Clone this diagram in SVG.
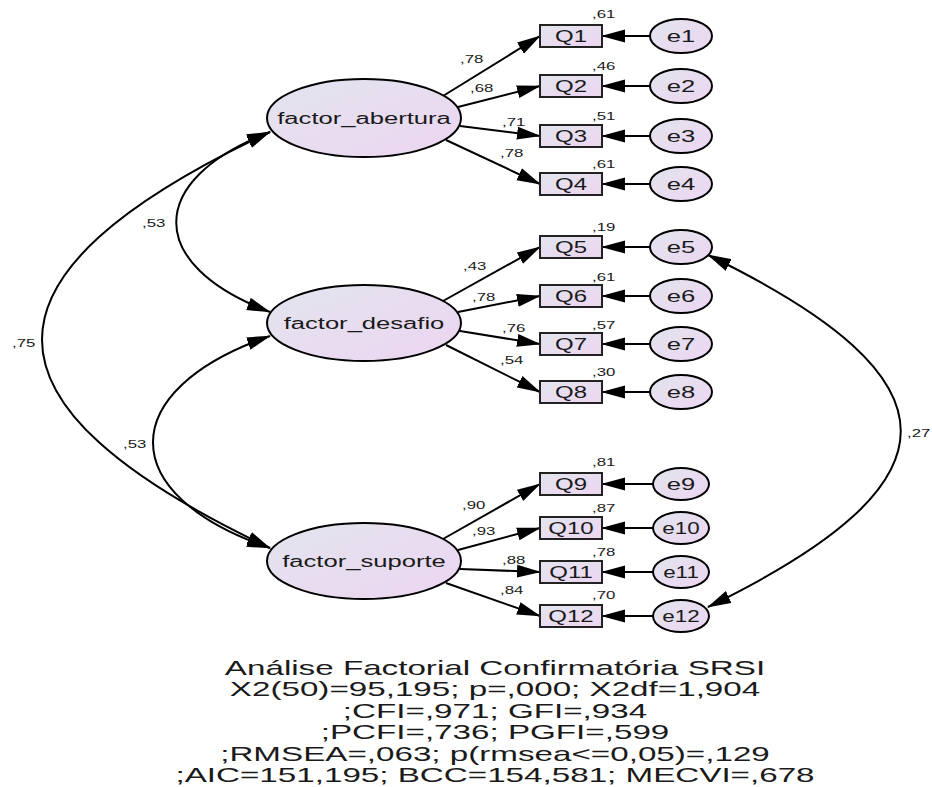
<svg xmlns="http://www.w3.org/2000/svg" width="932" height="787" viewBox="0 0 932 787">
<defs>
<linearGradient id="fill" x1="0" y1="0" x2="1" y2="1">
<stop offset="0" stop-color="#e2e5ee"/>
<stop offset="1" stop-color="#edd5f1"/>
</linearGradient>
<marker id="ah" viewBox="0 0 24 14" refX="23" refY="7" markerWidth="24" markerHeight="14" markerUnits="userSpaceOnUse" orient="auto-start-reverse">
<path d="M0,0.5 L24,7 L0,13.5 z" fill="#000"/>
</marker>
<style>
.lat{fill:url(#fill);stroke:#000;stroke-width:2}
.obs{fill:url(#fill);stroke:#222;stroke-width:2}
.err{fill:url(#fill);stroke:#000;stroke-width:2}
.c{fill:none;stroke:#000;stroke-width:2}
.a{marker-end:url(#ah)}
.b{marker-start:url(#ah);marker-end:url(#ah)}
text{font-family:"Liberation Sans",Arial,sans-serif;fill:#1a1a1a}
.nl{font-size:16px;text-anchor:middle}
.ql{font-size:16px;text-anchor:middle}
.sm{font-size:10.5px}
.tt{font-size:20px;text-anchor:middle}
</style>
</defs>
<rect width="932" height="787" fill="#fff"/>

<g id="connectors">
<path class="c b" d="M270,132 C145,180 145,265 270,312"/>
<path class="c b" d="M270,132 C-34,275 -34,404 270,548"/>
<path class="c b" d="M270,336 C114,390 114,495 270,548"/>
<path class="c b" d="M708,255 C965,380 965,482 708,607"/>
<line class="c a" x1="443" y1="96" x2="540" y2="36"/>
<line class="c a" x1="458" y1="107" x2="540" y2="86"/>
<line class="c a" x1="460" y1="126" x2="540" y2="136"/>
<line class="c a" x1="446" y1="140" x2="540" y2="184"/>
<line class="c a" x1="443" y1="301" x2="540" y2="247"/>
<line class="c a" x1="458" y1="312" x2="540" y2="296"/>
<line class="c a" x1="460" y1="331" x2="540" y2="344"/>
<line class="c a" x1="446" y1="345" x2="540" y2="392"/>
<line class="c a" x1="443" y1="539" x2="540" y2="484"/>
<line class="c a" x1="458" y1="550" x2="540" y2="528"/>
<line class="c a" x1="460" y1="569" x2="540" y2="572"/>
<line class="c a" x1="446" y1="583" x2="540" y2="616"/>
<line class="c a" x1="650" y1="36" x2="602" y2="36"/>
<line class="c a" x1="650" y1="86" x2="602" y2="86"/>
<line class="c a" x1="650" y1="136" x2="602" y2="136"/>
<line class="c a" x1="650" y1="184" x2="602" y2="184"/>
<line class="c a" x1="650" y1="247" x2="602" y2="247"/>
<line class="c a" x1="650" y1="296" x2="602" y2="296"/>
<line class="c a" x1="650" y1="344" x2="602" y2="344"/>
<line class="c a" x1="650" y1="392" x2="602" y2="392"/>
<line class="c a" x1="653" y1="484" x2="602" y2="484"/>
<line class="c a" x1="653" y1="528" x2="602" y2="528"/>
<line class="c a" x1="653" y1="572" x2="602" y2="572"/>
<line class="c a" x1="653" y1="616" x2="602" y2="616"/>
<g class="sm">
<text transform="translate(142,227) scale(1.6,1)">,53</text>
<text transform="translate(12,347) scale(1.6,1)">,75</text>
<text transform="translate(123,448) scale(1.6,1)">,53</text>
<text transform="translate(907,437) scale(1.6,1)">,27</text>
<text transform="translate(460,63) scale(1.6,1)">,78</text>
<text transform="translate(470,92) scale(1.6,1)">,68</text>
<text transform="translate(502,126) scale(1.6,1)">,71</text>
<text transform="translate(500,157) scale(1.6,1)">,78</text>
<text transform="translate(463,270) scale(1.6,1)">,43</text>
<text transform="translate(472,301) scale(1.6,1)">,78</text>
<text transform="translate(502,332) scale(1.6,1)">,76</text>
<text transform="translate(500,364) scale(1.6,1)">,54</text>
<text transform="translate(462,509) scale(1.6,1)">,90</text>
<text transform="translate(472,535) scale(1.6,1)">,93</text>
<text transform="translate(502,564) scale(1.6,1)">,88</text>
<text transform="translate(500,594) scale(1.6,1)">,84</text>
</g>
</g>

<g id="factor_abertura"><ellipse class="lat" cx="364" cy="118" rx="97" ry="39"/><text class="nl" transform="translate(364,124) scale(1.6,1)">factor_abertura</text></g>
<g id="factor_desafio"><ellipse class="lat" cx="364" cy="323" rx="97" ry="38"/><text class="nl" transform="translate(364,329) scale(1.6,1)">factor_desafio</text></g>
<g id="factor_suporte"><ellipse class="lat" cx="364" cy="561" rx="97" ry="38"/><text class="nl" transform="translate(364,567) scale(1.6,1)">factor_suporte</text></g>

<g id="Q1"><rect class="obs" x="540" y="25" width="62" height="22"/><text class="ql" transform="translate(571,42) scale(1.5,1)">Q1</text><text class="sm" transform="translate(592,18) scale(1.6,1)">,61</text></g>
<g id="Q2"><rect class="obs" x="540" y="75" width="62" height="22"/><text class="ql" transform="translate(571,92) scale(1.5,1)">Q2</text><text class="sm" transform="translate(592,70) scale(1.6,1)">,46</text></g>
<g id="Q3"><rect class="obs" x="540" y="125" width="62" height="22"/><text class="ql" transform="translate(571,142) scale(1.5,1)">Q3</text><text class="sm" transform="translate(592,120) scale(1.6,1)">,51</text></g>
<g id="Q4"><rect class="obs" x="540" y="173" width="62" height="22"/><text class="ql" transform="translate(571,190) scale(1.5,1)">Q4</text><text class="sm" transform="translate(592,168) scale(1.6,1)">,61</text></g>
<g id="Q5"><rect class="obs" x="540" y="236" width="62" height="22"/><text class="ql" transform="translate(571,253) scale(1.5,1)">Q5</text><text class="sm" transform="translate(592,231) scale(1.6,1)">,19</text></g>
<g id="Q6"><rect class="obs" x="540" y="285" width="62" height="22"/><text class="ql" transform="translate(571,302) scale(1.5,1)">Q6</text><text class="sm" transform="translate(592,281) scale(1.6,1)">,61</text></g>
<g id="Q7"><rect class="obs" x="540" y="333" width="62" height="22"/><text class="ql" transform="translate(571,350) scale(1.5,1)">Q7</text><text class="sm" transform="translate(592,329) scale(1.6,1)">,57</text></g>
<g id="Q8"><rect class="obs" x="540" y="381" width="62" height="22"/><text class="ql" transform="translate(571,398) scale(1.5,1)">Q8</text><text class="sm" transform="translate(592,376) scale(1.6,1)">,30</text></g>
<g id="Q9"><rect class="obs" x="540" y="473" width="62" height="22"/><text class="ql" transform="translate(571,490) scale(1.5,1)">Q9</text><text class="sm" transform="translate(592,466) scale(1.6,1)">,81</text></g>
<g id="Q10"><rect class="obs" x="540" y="517" width="62" height="22"/><text class="ql" transform="translate(571,534) scale(1.5,1)">Q10</text><text class="sm" transform="translate(592,512) scale(1.6,1)">,87</text></g>
<g id="Q11"><rect class="obs" x="540" y="561" width="62" height="22"/><text class="ql" transform="translate(571,578) scale(1.5,1)">Q11</text><text class="sm" transform="translate(592,556) scale(1.6,1)">,78</text></g>
<g id="Q12"><rect class="obs" x="540" y="605" width="62" height="22"/><text class="ql" transform="translate(571,622) scale(1.5,1)">Q12</text><text class="sm" transform="translate(592,599) scale(1.6,1)">,70</text></g>

<g id="e1"><ellipse class="err" cx="681" cy="36" rx="31" ry="17"/><text class="ql" transform="translate(681,42) scale(1.6,1)">e1</text></g>
<g id="e2"><ellipse class="err" cx="681" cy="86" rx="31" ry="17"/><text class="ql" transform="translate(681,92) scale(1.6,1)">e2</text></g>
<g id="e3"><ellipse class="err" cx="681" cy="136" rx="31" ry="17"/><text class="ql" transform="translate(681,142) scale(1.6,1)">e3</text></g>
<g id="e4"><ellipse class="err" cx="681" cy="184" rx="31" ry="17"/><text class="ql" transform="translate(681,190) scale(1.6,1)">e4</text></g>
<g id="e5"><ellipse class="err" cx="681" cy="247" rx="31" ry="17"/><text class="ql" transform="translate(681,253) scale(1.6,1)">e5</text></g>
<g id="e6"><ellipse class="err" cx="681" cy="296" rx="31" ry="17"/><text class="ql" transform="translate(681,302) scale(1.6,1)">e6</text></g>
<g id="e7"><ellipse class="err" cx="681" cy="344" rx="31" ry="17"/><text class="ql" transform="translate(681,350) scale(1.6,1)">e7</text></g>
<g id="e8"><ellipse class="err" cx="681" cy="392" rx="31" ry="17"/><text class="ql" transform="translate(681,398) scale(1.6,1)">e8</text></g>
<g id="e9"><ellipse class="err" cx="681" cy="484" rx="28" ry="16"/><text class="ql" transform="translate(681,490) scale(1.6,1)">e9</text></g>
<g id="e10"><ellipse class="err" cx="681" cy="528" rx="28" ry="16"/><text class="ql" transform="translate(681,534) scale(1.4,1)">e10</text></g>
<g id="e11"><ellipse class="err" cx="681" cy="572" rx="28" ry="16"/><text class="ql" transform="translate(681,578) scale(1.4,1)">e11</text></g>
<g id="e12"><ellipse class="err" cx="681" cy="616" rx="28" ry="16"/><text class="ql" transform="translate(681,622) scale(1.4,1)">e12</text></g>

<g id="title" class="tt">
<text transform="translate(495,675) scale(1.66,1)">Análise Factorial Confirmatória SRSI</text>
<text transform="translate(495,696) scale(1.66,1)">X2(50)=95,195; p=,000; X2df=1,904</text>
<text transform="translate(495,718) scale(1.66,1)">;CFI=,971; GFI=,934</text>
<text transform="translate(495,739) scale(1.66,1)">;PCFI=,736; PGFI=,599</text>
<text transform="translate(495,761) scale(1.66,1)">;RMSEA=,063; p(rmsea&lt;=0,05)=,129</text>
<text transform="translate(495,782) scale(1.66,1)">;AIC=151,195; BCC=154,581; MECVI=,678</text>
</g>
</svg>
